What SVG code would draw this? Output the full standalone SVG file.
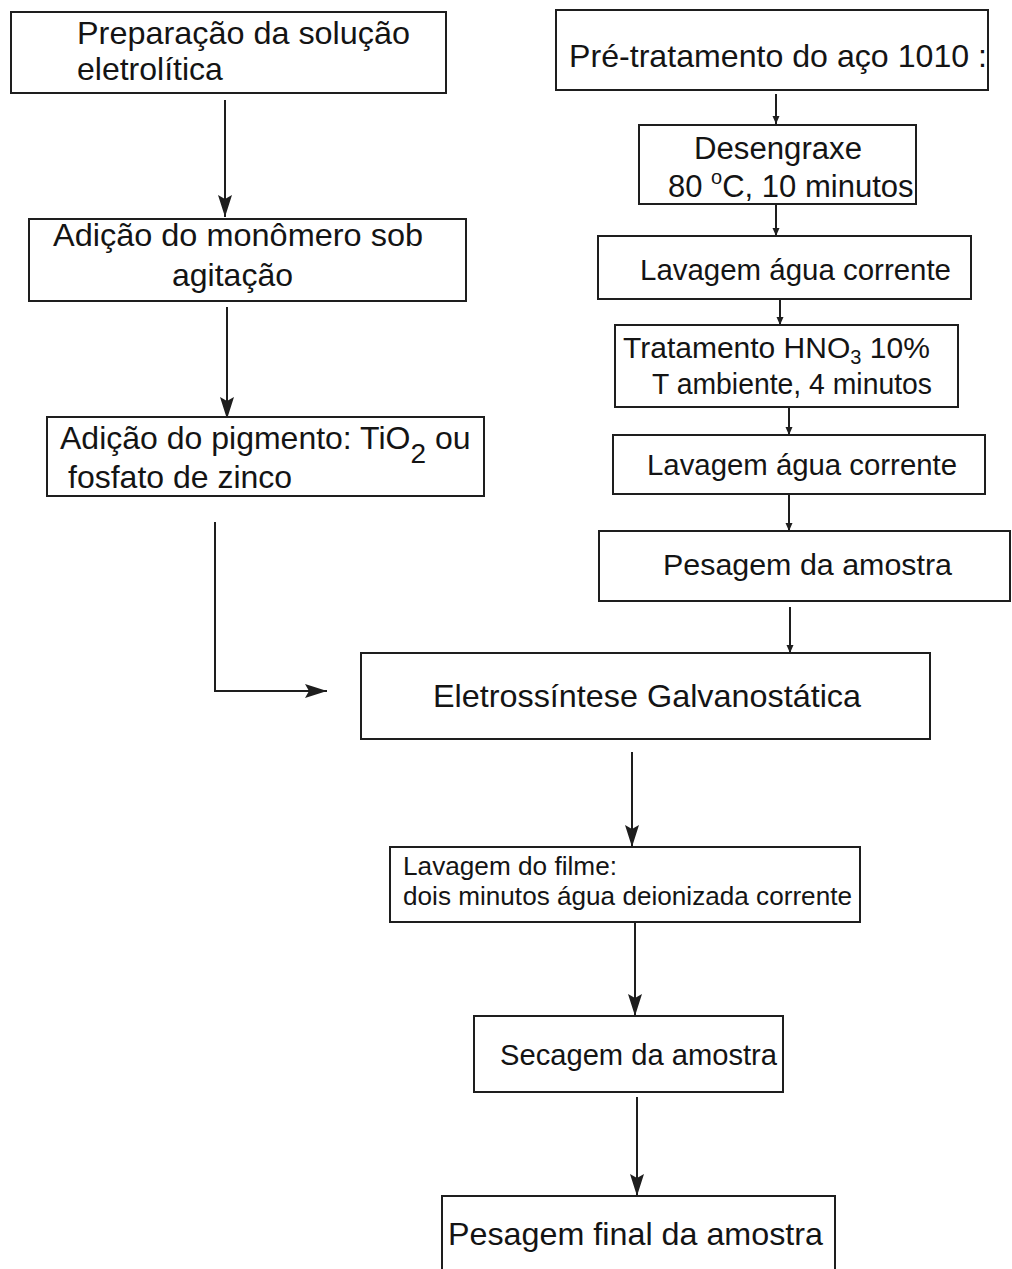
<svg xmlns="http://www.w3.org/2000/svg" width="1012" height="1269" viewBox="0 0 1012 1269">
<style>
  .box { fill: #ffffff; stroke: #1e1e1e; stroke-width: 2; }
  .t { font-family: "Liberation Sans", Arial, sans-serif; fill: #141414; }
  .edge { fill: none; stroke: #1e1e1e; stroke-width: 2; }
</style>
<defs>
  <marker id="big" markerUnits="userSpaceOnUse" markerWidth="24" markerHeight="16" refX="22" refY="8" orient="auto">
    <path d="M0,1 L22,8 L0,15 L4,8 Z" fill="#1e1e1e"/>
  </marker>
  <marker id="small" markerUnits="userSpaceOnUse" markerWidth="9" markerHeight="8" refX="8" refY="4" orient="auto">
    <path d="M0,0.5 L8,4 L0,7.5 Z" fill="#1e1e1e"/>
  </marker>
</defs>
<rect width="1012" height="1269" fill="#ffffff"/>

<g id="connectors">
  <path class="edge" d="M225,100 V217" marker-end="url(#big)"/>
  <path class="edge" d="M227,307 V419" marker-end="url(#big)"/>
  <path class="edge" d="M215,522 V691 H327" marker-end="url(#big)"/>
  <path class="edge" d="M776,94 V124" marker-end="url(#small)"/>
  <path class="edge" d="M776,205 V236" marker-end="url(#small)"/>
  <path class="edge" d="M780,300 V325" marker-end="url(#small)"/>
  <path class="edge" d="M789,408 V435" marker-end="url(#small)"/>
  <path class="edge" d="M789,495 V531" marker-end="url(#small)"/>
  <path class="edge" d="M790,607 V653" marker-end="url(#small)"/>
  <path class="edge" d="M632,752 V847" marker-end="url(#big)"/>
  <path class="edge" d="M635,923 V1016" marker-end="url(#big)"/>
  <path class="edge" d="M637,1097 V1196" marker-end="url(#big)"/>
</g>

<g id="n-preparacao">
  <rect class="box" x="11" y="12" width="435" height="81"/>
  <text class="t" font-size="32" x="77" y="44" textLength="333" lengthAdjust="spacingAndGlyphs">Preparação da solução</text>
  <text class="t" font-size="32" x="77" y="80">eletrolítica</text>
</g>

<g id="n-monomero">
  <rect class="box" x="29" y="219" width="437" height="82"/>
  <text class="t" font-size="32" x="53" y="246" textLength="370" lengthAdjust="spacingAndGlyphs">Adição do monômero sob</text>
  <text class="t" font-size="32" x="172" y="286">agitação</text>
</g>

<g id="n-pigmento">
  <rect class="box" x="47" y="417" width="437" height="79"/>
  <text class="t" font-size="32" x="60" y="449">Adição do pigmento: TiO<tspan font-size="28" dy="14">2</tspan><tspan dy="-14"> ou</tspan></text>
  <text class="t" font-size="32" x="68" y="488">fosfato de zinco</text>
</g>

<g id="n-pretratamento">
  <rect class="box" x="556" y="10" width="432" height="80"/>
  <text class="t" font-size="32" x="569" y="67" textLength="418" lengthAdjust="spacingAndGlyphs">Pré-tratamento do aço 1010 :</text>
</g>

<g id="n-desengraxe">
  <rect class="box" x="639" y="125" width="277" height="79"/>
  <text class="t" font-size="31" x="694" y="159" textLength="168" lengthAdjust="spacingAndGlyphs">Desengraxe</text>
  <text class="t" font-size="31" x="668" y="197">80 <tspan font-size="20" dy="-13">o</tspan><tspan dy="13">C, 10 minutos</tspan></text>
</g>

<g id="n-lavagem1">
  <rect class="box" x="598" y="236" width="373" height="63"/>
  <text class="t" font-size="30" x="640" y="280" textLength="311" lengthAdjust="spacingAndGlyphs">Lavagem água corrente</text>
</g>

<g id="n-hno3">
  <rect class="box" x="615" y="325" width="343" height="82"/>
  <text class="t" font-size="30" x="623" y="358">Tratamento HNO<tspan font-size="20" dy="6">3</tspan><tspan dy="-6"> 10%</tspan></text>
  <text class="t" font-size="29" x="652" y="394" textLength="280" lengthAdjust="spacingAndGlyphs">T ambiente, 4 minutos</text>
</g>

<g id="n-lavagem2">
  <rect class="box" x="613" y="435" width="372" height="59"/>
  <text class="t" font-size="30" x="647" y="475" textLength="310" lengthAdjust="spacingAndGlyphs">Lavagem água corrente</text>
</g>

<g id="n-pesagem">
  <rect class="box" x="599" y="531" width="411" height="70"/>
  <text class="t" font-size="30" x="663" y="575" textLength="289" lengthAdjust="spacingAndGlyphs">Pesagem da amostra</text>
</g>

<g id="n-eletrossintese">
  <rect class="box" x="361" y="653" width="569" height="86"/>
  <text class="t" font-size="32" x="433" y="707" textLength="428" lengthAdjust="spacingAndGlyphs">Eletrossíntese Galvanostática</text>
</g>

<g id="n-lavagem-filme">
  <rect class="box" x="390" y="847" width="470" height="75"/>
  <text class="t" font-size="26" x="403" y="875" textLength="214" lengthAdjust="spacingAndGlyphs">Lavagem do filme:</text>
  <text class="t" font-size="26" x="403" y="905" textLength="449" lengthAdjust="spacingAndGlyphs">dois minutos água deionizada corrente</text>
</g>

<g id="n-secagem">
  <rect class="box" x="474" y="1016" width="309" height="76"/>
  <text class="t" font-size="29" x="500" y="1065" textLength="277" lengthAdjust="spacingAndGlyphs">Secagem da amostra</text>
</g>

<g id="n-pesagem-final">
  <rect class="box" x="442" y="1196" width="393" height="80"/>
  <text class="t" font-size="32" x="448" y="1245" textLength="375" lengthAdjust="spacingAndGlyphs">Pesagem final da amostra</text>
</g>
</svg>
